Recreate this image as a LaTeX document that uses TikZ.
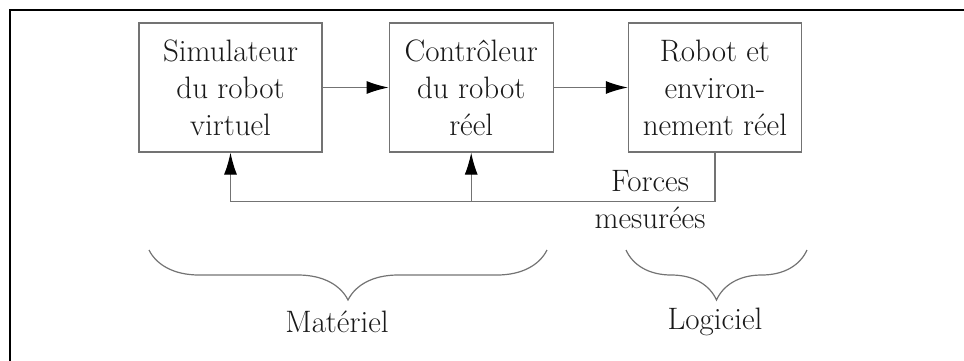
\documentclass[tikz,border=0pt]{standalone}
\usepackage{fontspec}
\usepackage{tikz}
\usetikzlibrary{arrows.meta,positioning,calc,decorations.pathreplacing}

\begin{document}
\begin{tikzpicture}[
        x=1pt, y=-1pt,
        font=\fontsize{31}{37}\selectfont,
        every node/.style={text=black!90},
        block/.style={
            draw=black!55, line width=1.2pt,
            minimum height=129pt, inner sep=0pt,
            align=center
        },
        link/.style={draw=black!55, line width=1.2pt},
        msg/.style={link, -{Latex[length=22pt,width=13pt,black]}},
        grp/.style={draw=black!55, line width=1.2pt,
            decorate, decoration={brace, mirror, amplitude=50pt}},
        node distance=66pt
    ]
    \useasboundingbox (0,0) rectangle (964,360);

    % Frame
    \draw[line width=2pt] (10,370) -- (10,10) -- (975,10);

    % Blocks
    \node[block, minimum width=183pt] (sim) at (230.5,87.5)
        {Simulateur\\du robot\\virtuel};
    \node[block, minimum width=164pt, right=of sim] (ctrl)
        {Contrôleur\\du robot\\réel};
    \node[block, minimum width=173pt, right=74pt of ctrl] (robot)
        {Robot et\\environ-\\nement réel};

    % Forward arrows
    \draw[msg] (sim) -- (ctrl);
    \draw[msg] (ctrl) -- (robot);

    % Feedback of the measured forces
    \coordinate (fb) at ($(robot.south)+(0,49)$);
    \draw[msg] (robot.south) -- (fb) -| (sim.south);
    \draw[msg] (ctrl.south |- fb) -- (ctrl.south);
    \node[align=center] (forces) at (650,200) {Forces\\mesurées};

    % Braces
    \coordinate (mat-a) at (149,250);
    \coordinate (mat-b) at (547,250);
    \coordinate (log-a) at (626,250);
    \coordinate (log-b) at (807,250);
    \draw[grp] (mat-a) -- (mat-b);
    \draw[grp] (log-a) -- (log-b);
    \node (mat) at (337,322) {Matériel};
    \node (log) at (715,322) {Logiciel};

\end{tikzpicture}
\end{document}
